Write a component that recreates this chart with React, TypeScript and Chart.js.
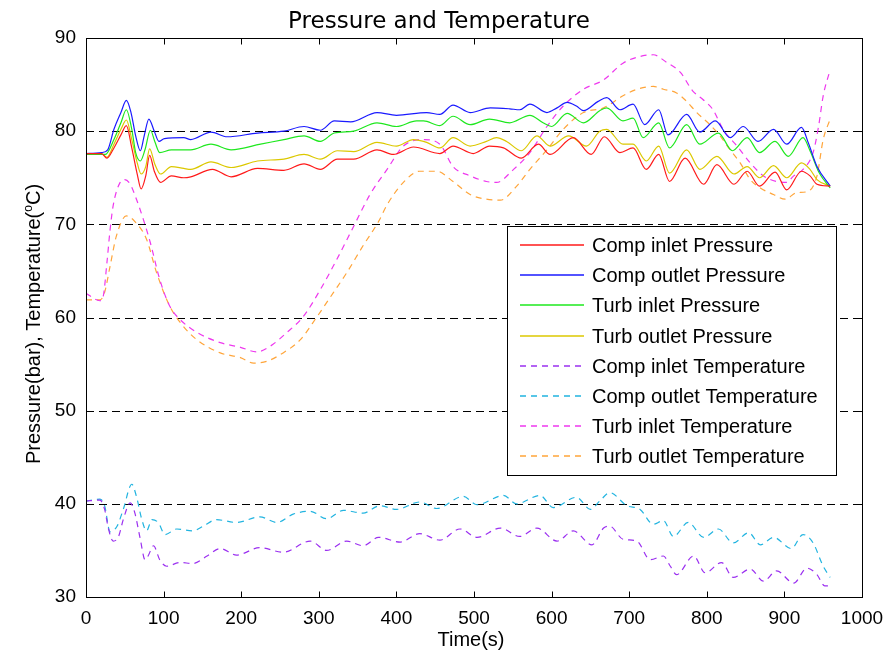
import React, { useEffect, useRef } from "react";
import { Chart, registerables } from "chart.js";

Chart.register(...registerables);

// ---- Data (time in s, values in bar / °C) ----
const compInletPT = [0,20,27,36,45,52,59,66,71,77,82,88,96,110,126,135,163,187,221,255,281,302,324,345,375,396,422,456,473,499,520,538,561,583,598,628,651,668,688,705,722,738,752,772,796,813,835,852,868,888,903,922,933,942,959];
const compInletPV = [77.6,77.6,77.1,78.2,79.6,80.6,78.2,75.4,73.8,75.2,77.4,75.7,74.5,75.2,75.0,75.1,75.9,75.1,76.0,75.8,76.5,75.9,77.0,77.0,78.0,77.5,78.3,77.6,78.4,77.6,78.4,78.2,77.1,78.6,77.5,79.3,77.5,79.4,77.7,78.2,75.9,77.5,74.6,77.1,74.3,76.4,74.3,75.7,74.1,75.6,73.7,75.7,75.2,74.3,74.1];

const compOutletPT = [0,20,28,36,45,52,58,64,70,75,81,88,94,101,126,135,161,182,221,255,281,302,320,341,375,400,439,456,473,495,521,546,559,572,594,607,620,632,641,660,671,688,705,720,738,750,774,791,811,830,847,866,886,903,922,931,942,959];
const compOutletPV = [77.6,77.7,78.0,80.2,82.0,83.3,82.0,79.5,77.9,79.5,81.3,80.0,78.9,79.2,79.3,79.1,79.9,79.4,79.8,80.0,80.5,80.1,81.1,81.0,82.0,81.7,82.0,81.8,82.8,82.0,82.5,82.4,82.3,82.9,82.0,82.5,83.1,82.7,82.2,83.2,83.6,82.3,82.9,80.7,82.3,79.6,81.8,79.9,81.1,79.3,80.5,78.9,80.2,78.6,80.4,78.7,76.2,74.1];

const turbInletPT = [0,25,36,45,52,59,64,70,76,83,89,95,110,135,161,187,225,255,281,302,320,345,375,400,426,435,456,473,495,520,546,572,589,600,620,641,662,671,692,705,718,738,752,774,791,815,833,852,868,888,905,924,933,945,959];
const turbInletPV = [77.5,77.5,79.1,80.9,82.3,80.2,77.7,76.8,78.0,80.1,78.8,77.7,78.0,78.0,78.6,78.0,78.6,79.1,79.5,78.9,79.8,80.0,80.9,80.5,81.1,81.1,80.6,81.6,80.7,81.3,80.9,81.7,80.9,80.5,81.9,80.9,82.2,82.5,81.1,81.4,79.3,80.9,78.2,80.7,78.6,79.8,77.9,79.3,77.7,78.9,77.3,79.3,77.9,75.5,73.9];

const turbOutletPT = [0,20,27,36,45,52,59,66,71,77,82,89,96,110,126,135,161,187,221,255,281,302,324,345,375,400,422,439,456,473,495,516,529,542,561,581,598,622,645,662,671,692,705,722,738,752,774,791,813,835,852,868,886,903,922,933,942,959];
const turbOutletPV = [77.6,77.6,77.2,78.6,80.2,81.2,79.1,76.6,75.4,76.2,78.1,76.4,75.4,76.2,76.0,75.9,76.7,76.1,76.8,77.0,77.5,77.0,77.9,77.8,78.8,78.4,79.1,78.8,78.2,79.3,78.4,78.9,79.3,78.9,77.9,79.5,78.4,79.5,78.4,80.0,80.2,78.6,78.6,76.8,78.4,75.5,78.0,75.9,77.3,75.4,76.2,75.0,76.3,75.0,76.6,75.9,74.8,74.1];

const compInletTT = [0,18,24,29,35,42,48,57,63,70,76,80,87,95,104,121,138,156,173,194,224,254,289,310,336,357,377,405,430,456,482,504,534,559,581,607,628,652,667,675,692,710,727,744,753,761,783,798,819,834,856,873,890,912,929,942,952,959];
const compInletTV = [40.3,40.4,39.4,37.3,36.0,36.5,38.3,40.1,39.0,36.2,34.0,34.4,35.5,34.0,33.3,33.7,33.6,34.4,35.2,34.5,35.3,34.8,36.0,35.0,36.0,35.5,36.4,35.9,36.8,36.1,37.3,36.4,37.4,36.5,37.4,36.0,37.1,35.6,37.4,37.6,36.2,36.0,34.0,34.4,33.3,32.4,34.4,32.6,33.7,32.1,33.0,31.7,32.8,31.5,33.1,32.4,31.2,31.2];

const compOutletTT = [0,18,24,31,40,48,59,65,72,78,85,93,102,117,138,151,168,194,224,246,267,289,310,332,357,379,400,430,452,486,504,538,555,585,602,632,650,662,675,697,714,731,744,757,776,796,815,834,854,869,886,909,924,937,950,959];
const compOutletTV = [40.3,40.5,39.8,37.0,37.6,39.4,42.1,40.8,38.3,37.1,38.3,38.0,36.7,37.3,37.1,37.6,38.3,38.0,38.6,38.0,38.9,39.2,38.4,39.3,39.0,39.8,39.4,40.2,39.5,40.8,39.9,40.9,40.0,40.9,39.6,40.7,39.4,40.3,41.2,39.8,39.4,37.8,38.2,36.5,38.0,36.4,37.3,35.8,36.9,35.6,36.4,35.2,36.7,35.8,33.3,32.1];

const turbInletTT = [0,18,22,27,31,35,44,50,57,65,74,83,95,108,121,143,173,199,220,237,259,280,302,323,345,366,388,409,435,456,473,495,516,529,551,572,594,615,641,667,692,718,731,748,766,782,795,808,821,839,856,873,890,903,912,924,937,944,950,959];
const turbInletTV = [62.6,61.8,62.2,65.9,69.4,72.0,74.5,74.8,74.3,72.7,70.5,68.0,64.1,61.2,59.8,58.4,57.3,56.8,56.3,56.9,58.4,60.1,63.0,66.2,69.8,73.2,75.9,78.4,79.1,78.6,76.2,75.2,74.6,74.5,75.9,77.7,80.5,82.7,84.5,85.5,87.3,88.1,88.2,87.4,86.3,84.3,83.4,82.3,80.2,78.4,76.6,75.2,74.6,74.5,75.2,75.9,77.7,80.5,83.8,86.6];

const turbOutletTT = [0,18,24,31,39,52,63,78,91,108,125,143,173,199,216,233,254,276,297,319,336,357,377,388,409,430,452,473,495,516,534,555,572,594,615,641,667,692,710,731,744,761,774,787,804,817,830,843,856,869,886,901,916,929,942,950,959];
const turbOutletTV = [61.9,61.9,62.7,65.5,68.7,70.9,70.3,68.4,64.8,61.2,59.1,57.6,56.2,55.7,55.1,55.3,56.2,57.6,60.0,62.7,64.8,67.7,70.3,72.1,74.5,75.7,75.7,74.6,73.2,72.7,72.6,74.1,75.9,78.0,80.2,82.0,82.5,83.8,84.5,84.8,84.5,84.1,83.2,82.0,80.7,79.5,78.0,76.6,74.8,73.9,73.2,72.7,73.4,73.5,75.2,79.1,81.3];

const seriesLabels = [
  "Comp inlet Pressure",
  "Comp outlet Pressure",
  "Turb inlet Pressure",
  "Turb outlet Pressure",
  "Comp inlet Temperature",
  "Comp outlet Temperature",
  "Turb inlet Temperature",
  "Turb outlet Temperature",
];
const seriesColors = ["#ff1a1a", "#1a1aff", "#1ee81e", "#dcc800", "#9b30f0", "#22b4e0", "#ee38ee", "#ffa53a"];
const seriesTimes = [compInletPT, compOutletPT, turbInletPT, turbOutletPT, compInletTT, compOutletTT, turbInletTT, turbOutletTT];
const seriesValues = [compInletPV, compOutletPV, turbInletPV, turbOutletPV, compInletTV, compOutletTV, turbInletTV, turbOutletTV];
const seriesDashed = [false, false, false, false, true, true, true, true];

const xTickStep = 100;
const yTickStep = 10;
const chartTitle = "Pressure and Temperature";
const xTitle = "Time(s)";
const yTitle = "Pressure(bar), Temperature(";

const FONT = "'Liberation Sans', Arial, sans-serif";
const TITLE_FONT = "'DejaVu Sans', sans-serif";
const DASH = [6, 5];

const decorPlugin = {
  id: "decor",
  beforeDraw(chart: any) {
    const ctx = chart.ctx;
    ctx.save();
    ctx.fillStyle = "#ffffff";
    ctx.fillRect(0, 0, chart.width, chart.height);
    ctx.restore();
  },
  beforeDatasetsDraw(chart: any) {
    const { ctx, chartArea } = chart;
    const ys = chart.scales.y;
    ctx.save();
    ctx.strokeStyle = "#000";
    ctx.lineWidth = 1;
    ctx.setLineDash([8, 5]);
    ys.ticks.forEach((t: any) => {
      if (t.value <= ys.min || t.value >= ys.max) return;
      const y = Math.round(ys.getPixelForValue(t.value)) + 0.5;
      ctx.beginPath();
      ctx.moveTo(chartArea.left, y);
      ctx.lineTo(chartArea.right, y);
      ctx.stroke();
    });
    ctx.restore();
  },
  afterDraw(chart: any) {
    const { ctx, chartArea } = chart;
    const xs = chart.scales.x;
    const ys = chart.scales.y;
    const L = Math.round(chartArea.left) + 0.5;
    const R = Math.round(chartArea.right) + 0.5;
    const T = Math.round(chartArea.top) + 0.5;
    const B = Math.round(chartArea.bottom) + 0.5;
    ctx.save();
    ctx.setLineDash([]);
    ctx.strokeStyle = "#000";
    ctx.lineWidth = 1;
    ctx.strokeRect(L, T, R - L, B - T);
    const tl = 6;
    xs.ticks.forEach((t: any) => {
      const x = Math.round(xs.getPixelForValue(t.value)) + 0.5;
      ctx.beginPath();
      ctx.moveTo(x, B);
      ctx.lineTo(x, B - tl);
      ctx.moveTo(x, T);
      ctx.lineTo(x, T + tl);
      ctx.stroke();
    });
    ys.ticks.forEach((t: any) => {
      const y = Math.round(ys.getPixelForValue(t.value)) + 0.5;
      ctx.beginPath();
      ctx.moveTo(L, y);
      ctx.lineTo(L + tl, y);
      ctx.moveTo(R, y);
      ctx.lineTo(R - tl, y);
      ctx.stroke();
    });

    // Legend
    const lx = 507.5, ly = 226.5, lw = 329, lh = 249;
    ctx.fillStyle = "#fff";
    ctx.fillRect(lx, ly, lw, lh);
    ctx.strokeStyle = "#000";
    ctx.strokeRect(lx, ly, lw, lh);
    ctx.font = `20px ${FONT}`;
    ctx.textBaseline = "middle";
    ctx.textAlign = "left";
    seriesLabels.forEach((label, i) => {
      const y = Math.round(245 + i * 30.2);
      ctx.save();
      ctx.strokeStyle = seriesColors[i];
      ctx.lineWidth = 1.6;
      ctx.setLineDash(seriesDashed[i] ? DASH : []);
      ctx.beginPath();
      ctx.moveTo(520, y);
      ctx.lineTo(584, y);
      ctx.stroke();
      ctx.restore();
      ctx.fillStyle = "#000";
      ctx.fillText(label, 592, y + 1);
    });

    // Titles
    ctx.fillStyle = "#000";
    ctx.textAlign = "center";
    ctx.textBaseline = "alphabetic";
    ctx.font = `23px ${TITLE_FONT}`;
    ctx.fillText(chartTitle, 439, 28);
    ctx.font = `20px ${FONT}`;
    ctx.fillText(xTitle, 471, 646);

    // Y title with superscript o
    ctx.save();
    ctx.translate(40, 324);
    ctx.rotate(-Math.PI / 2);
    ctx.font = `20px ${FONT}`;
    const w1 = ctx.measureText(yTitle).width;
    ctx.font = `12px ${FONT}`;
    const w2 = ctx.measureText("o").width;
    ctx.font = `20px ${FONT}`;
    const w3 = ctx.measureText("C)").width;
    const total = w1 + w2 + w3;
    const x0 = -total / 2;
    ctx.textAlign = "left";
    ctx.fillText(yTitle, x0, 0);
    ctx.font = `12px ${FONT}`;
    ctx.fillText("o", x0 + w1, -8);
    ctx.font = `20px ${FONT}`;
    ctx.fillText("C)", x0 + w1 + w2, 0);
    ctx.restore();

    ctx.restore();
  },
};

export default function App() {
  const canvasRef = useRef<HTMLCanvasElement | null>(null);

  useEffect(() => {
    if (!canvasRef.current) return;
    const datasets = seriesLabels.map((label, i) => ({
      label,
      data: seriesTimes[i].map((t, j) => ({ x: t, y: seriesValues[i][j] })),
      borderColor: seriesColors[i],
      backgroundColor: seriesColors[i],
      borderWidth: 1.2,
      borderDash: seriesDashed[i] ? DASH : [],
      pointRadius: 0,
      fill: false,
      cubicInterpolationMode: "monotone" as const,
    }));
    const chart = new Chart(canvasRef.current, {
      type: "line",
      data: { datasets },
      options: {
        responsive: false,
        animation: false,
        devicePixelRatio: 1,
        layout: { padding: { top: 38, right: 34, left: 0, bottom: 0 } },
        plugins: {
          legend: { display: false },
          title: { display: false },
          tooltip: { enabled: false },
        },
        scales: {
          x: {
            type: "linear",
            min: 0,
            max: 1000,
            afterFit: (s: any) => {
              s.height = 57;
            },
            grid: { display: false, drawTicks: false },
            border: { display: false },
            ticks: {
              stepSize: xTickStep,
              color: "#000",
              font: { family: FONT, size: 19 },
              padding: 10,
              maxRotation: 0,
              autoSkip: false,
              callback: (v: any) => String(v),
            },
          },
          y: {
            type: "linear",
            min: 30,
            max: 90,
            afterFit: (s: any) => {
              s.width = 86;
            },
            grid: { display: false, drawTicks: false },
            border: { display: false },
            ticks: {
              stepSize: yTickStep,
              color: "#000",
              font: { family: FONT, size: 19 },
              padding: 10,
              callback: (v: any) => String(v),
            },
          },
        },
      },
      plugins: [decorPlugin],
    });
    return () => chart.destroy();
  }, []);

  return (
    <div style={{ position: "fixed", left: 0, top: 0, width: 896, height: 654, background: "#fff" }}>
      <canvas ref={canvasRef} width={896} height={654} style={{ display: "block" }} />
    </div>
  );
}
